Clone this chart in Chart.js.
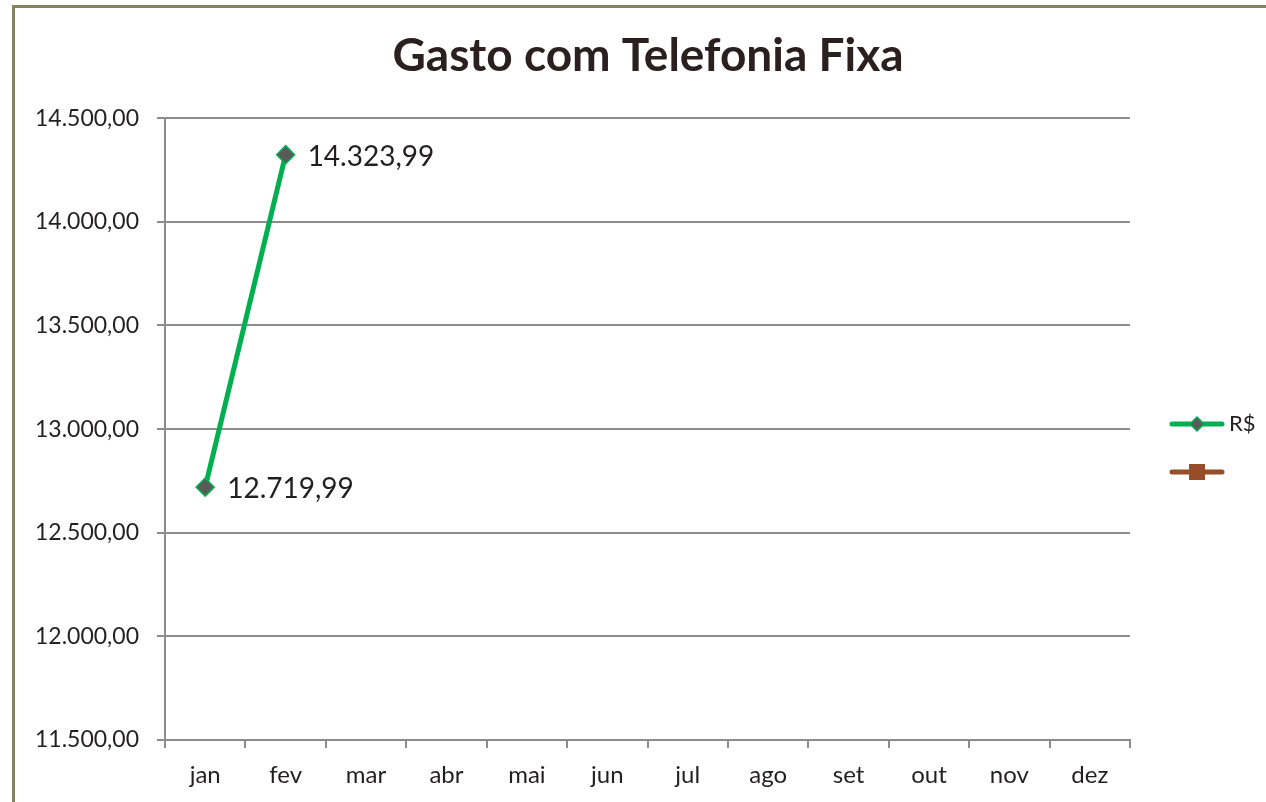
<!DOCTYPE html>
<html>
<head>
<meta charset="utf-8">
<script src="https://cdn.jsdelivr.net/npm/chart.js@4.4.1/dist/chart.umd.min.js"></script>
<style>
  html, body { margin: 0; padding: 0; background: #fff; overflow: hidden; }
  #frame {
    position: absolute; left: 12px; top: 5px; width: 1300px; height: 850px;
    border: 3px solid #85845f; box-sizing: border-box;
  }
  #canvas { position: absolute; left: 0; top: 0; }
</style>
</head>
<body>
<div id="frame"></div>
<canvas id="canvas" width="1266" height="802"></canvas>
<script>
const months = ["jan", "fev", "mar", "abr", "mai", "jun", "jul", "ago", "set", "out", "nov", "dez"];
const gasto = [12719.99, 14323.99, null, null, null, null, null, null, null, null, null, null];
const outro = [null, null, null, null, null, null, null, null, null, null, null, null];
const seriesNames = ["R$", ""];
const yMin = 11500;
const yMax = 14500;
const yStep = 500;

const font = "Lato, 'Open Sans', sans-serif";
const textColor = "#231f20";
const gridColor = "#8c8c8c";

const fmt = (v, d) => v.toLocaleString("pt-BR", { minimumFractionDigits: d, maximumFractionDigits: d });

// data labels to the right of the points
const labelPlugin = {
  id: "labels",
  afterDatasetsDraw: (chart) => {
    const ctx = chart.ctx;
    const meta = chart.getDatasetMeta(0);
    ctx.save();
    ctx.font = "28px " + font;
    ctx.fillStyle = textColor;
    ctx.textBaseline = "middle";
    meta.data.forEach((pt, i) => {
      const v = gasto[i];
      if (v === null) return;
      ctx.fillText(fmt(v, 2), pt.x + 22, pt.y + 2);
    });
    ctx.restore();
  }
};

// legend drawn like the original: line with marker
const legendPlugin = {
  id: "sideLegend",
  afterDraw: (chart) => {
    const ctx = chart.ctx;
    const ys = [424, 472];
    ctx.save();
    chart.data.datasets.forEach((ds, i) => {
      const y = ys[i];
      ctx.strokeStyle = ds.borderColor;
      ctx.lineWidth = 5;
      ctx.lineCap = "round";
      ctx.beginPath();
      ctx.moveTo(1172, y);
      ctx.lineTo(1222, y);
      ctx.stroke();
      ctx.fillStyle = ds.pointBackgroundColor;
      ctx.strokeStyle = ds.pointBorderColor;
      ctx.lineWidth = 1.5;
      if (ds.pointStyle === "rectRot") {
        ctx.beginPath();
        ctx.moveTo(1197, y - 7);
        ctx.lineTo(1204, y);
        ctx.lineTo(1197, y + 7);
        ctx.lineTo(1190, y);
        ctx.closePath();
        ctx.fill();
        ctx.stroke();
      } else {
        ctx.fillRect(1189, y - 8, 16, 16);
      }
      ctx.fillStyle = textColor;
      ctx.font = "22px " + font;
      ctx.textBaseline = "middle";
      ctx.fillText(ds.label, 1229, y);
    });
    ctx.restore();
  }
};

const chart = new Chart(document.getElementById("canvas").getContext("2d"), {
  type: "line",
  data: {
    labels: months,
    datasets: [
      {
        label: seriesNames[0],
        data: gasto,
        borderColor: "#00b050",
        borderWidth: 5,
        pointStyle: "rectRot",
        pointRadius: 9,
        pointBackgroundColor: "#5a5a5a",
        pointBorderColor: "#00b050",
        pointBorderWidth: 1.5,
        spanGaps: false
      },
      {
        label: seriesNames[1],
        data: outro,
        borderColor: "#984d2a",
        borderWidth: 5,
        pointStyle: "rect",
        pointRadius: 8,
        pointBackgroundColor: "#984d2a",
        pointBorderColor: "#984d2a"
      }
    ]
  },
  options: {
    responsive: false,
    animation: false,
    layout: { padding: { left: 30, right: 0, top: 0, bottom: 0 } },
    plugins: {
      legend: { display: false },
      tooltip: { enabled: false },
      title: {
        display: true,
        text: "Gasto com Telefonia Fixa",
        color: "#2b2020",
        font: { family: font, size: 46, weight: "bold", lineHeight: 1.2 },
        padding: { top: 29, bottom: 34 }
      }
    },
    scales: {
      x: {
        type: "category",
        offset: true,
        grid: {
          offset: true,
          drawOnChartArea: false,
          drawTicks: true,
          tickLength: 8,
          color: gridColor,
          lineWidth: 2
        },
        border: { display: true, color: gridColor, width: 2 },
        ticks: {
          color: textColor,
          font: { family: font, size: 24 },
          padding: 13,
          maxRotation: 0,
          autoSkip: false
        },
        afterFit: (s) => { s.height = 62; }
      },
      y: {
        min: yMin,
        max: yMax,
        grid: {
          color: gridColor,
          lineWidth: 2,
          tickLength: 8
        },
        border: { display: true, color: gridColor, width: 2 },
        ticks: {
          stepSize: yStep,
          color: textColor,
          font: { family: font, size: 23 },
          padding: 18,
          callback: (v) => fmt(v, 2)
        },
        afterFit: (s) => { s.width = 135; }
      },
      legendSpace: {
        position: "right",
        min: yMin,
        max: yMax,
        display: true,
        grid: { display: false },
        border: { display: false },
        ticks: { display: false },
        afterFit: (s) => { s.width = 136; }
      }
    }
  },
  plugins: [labelPlugin, legendPlugin]
});
</script>
</body>
</html>
